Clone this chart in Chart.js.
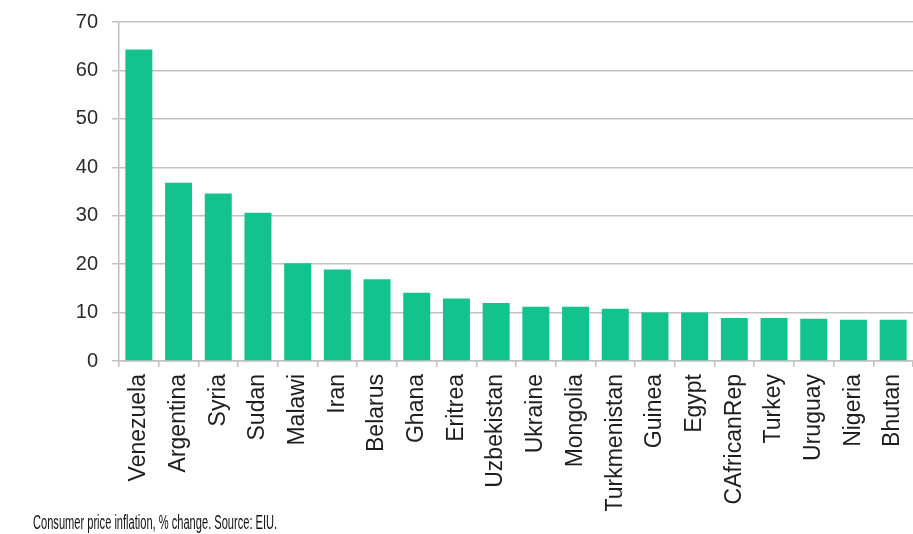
<!DOCTYPE html>
<html>
<head>
<meta charset="utf-8">
<script src="https://cdn.jsdelivr.net/npm/chart.js@4/dist/chart.umd.min.js"></script>
<style>
  html, body { margin: 0; padding: 0; background: #fff; }
  #wrap { width: 913px; height: 534px; position: relative; }
</style>
</head>
<body>
<div id="wrap"><canvas id="chart_inflation"></canvas></div>
<script>
const countries = ['Venezuela', 'Argentina', 'Syria', 'Sudan', 'Malawi', 'Iran', 'Belarus', 'Ghana',
  'Eritrea', 'Uzbekistan', 'Ukraine', 'Mongolia', 'Turkmenistan', 'Guinea', 'Egypt',
  'CAfricanRep', 'Turkey', 'Uruguay', 'Nigeria', 'Bhutan'];
const inflation = [64.3, 36.8, 34.6, 30.6, 20.2, 18.9, 16.9, 14.1, 12.9, 12.0,
  11.2, 11.2, 10.8, 10.0, 10.0, 8.9, 8.9, 8.7, 8.5, 8.5];
const yTicks = [0, 10, 20, 30, 40, 50, 60, 70];
const footnote = 'Consumer price inflation, % change. Source: EIU.';

const gridColor = '#c2c2c2';

// footnote under the axis labels, text looks a bit stretched in the picture
const footnotePlugin = {
  id: 'footnote',
  afterDraw(chart) {
    const ctx = chart.ctx;
    ctx.save();
    ctx.fillStyle = '#111';
    ctx.font = '11.1px "Liberation Sans", Arial, sans-serif';
    ctx.textBaseline = 'alphabetic';
    ctx.translate(33, 529);
    ctx.scale(1, 1.8);
    ctx.fillText(footnote, 0, 0);
    ctx.restore();
  }
};

new Chart(document.getElementById('chart_inflation'), {
  type: 'bar',
  data: {
    labels: countries,
    datasets: [{
      data: inflation,
      backgroundColor: '#13c38d',
      borderWidth: 0,
      barPercentage: 0.68,
      categoryPercentage: 1
    }]
  },
  options: {
    responsive: true,
    maintainAspectRatio: false,
    animation: false,
    layout: { padding: { top: 22, right: 0, bottom: 23, left: 0 } },
    scales: {
      y: {
        min: 0,
        max: 70,
        afterFit: (scale) => {
          scale.width = 119;
          scale.paddingTop = 0;
          scale.paddingBottom = 0;
        },
        afterBuildTicks: (scale) => { scale.ticks = yTicks.map(v => ({ value: v })); },
        ticks: {
          color: '#2a2a2a',
          padding: 14,
          font: { family: '"Liberation Sans", Arial, sans-serif', size: 20 }
        },
        grid: {
          color: gridColor,
          lineWidth: 1.5,
          tickLength: 7,
          tickColor: gridColor
        },
        border: { color: gridColor, width: 1.5 }
      },
      x: {
        afterFit: (scale) => {
          scale.height = 150;
          scale.paddingLeft = 0;
          scale.paddingRight = 0;
        },
        ticks: {
          color: '#1e1e1e',
          minRotation: 90,
          maxRotation: 90,
          autoSkip: false,
          padding: 7,
          font: { family: '"Liberation Sans", Arial, sans-serif', size: 23 }
        },
        grid: {
          drawOnChartArea: false,
          offset: true,
          tickLength: 6,
          color: gridColor,
          lineWidth: 1.5
        },
        border: { color: gridColor, width: 1.5 }
      }
    },
    plugins: {
      legend: { display: false },
      tooltip: { enabled: false }
    }
  },
  plugins: [footnotePlugin]
});
</script>
</body>
</html>
